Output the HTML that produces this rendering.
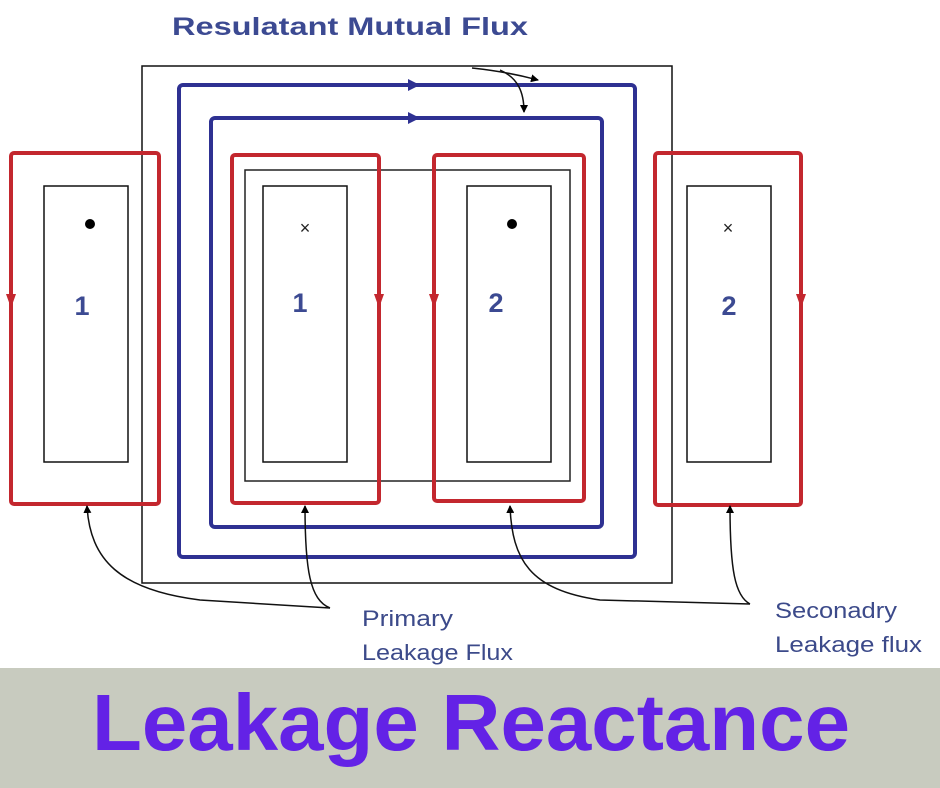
<!DOCTYPE html>
<html><head><meta charset="utf-8"><style>
html,body{margin:0;padding:0;background:#fff;}
svg{display:block;}
</style></head><body>
<svg width="940" height="788" viewBox="0 0 940 788" xmlns="http://www.w3.org/2000/svg">
<defs>
<marker id="ab" markerWidth="8" markerHeight="8" refX="7" refY="4" orient="auto" markerUnits="userSpaceOnUse"><path d="M0,0 L8,4 L0,8 z" fill="#000"/></marker>
</defs>
<rect width="940" height="668" fill="#fff"/>
<text x="172" y="35" font-family="Liberation Sans, sans-serif" font-size="25" font-weight="bold" fill="#3c4a92" textLength="356" lengthAdjust="spacingAndGlyphs">Resulatant Mutual Flux</text>
<!-- core -->
<rect x="142" y="66" width="530" height="517" fill="none" stroke="#111" stroke-width="1.5"/>
<rect x="245" y="170" width="325" height="311" fill="none" stroke="#222" stroke-width="1.5"/>
<!-- blue loops -->
<rect x="179" y="85" width="456" height="472" rx="4" fill="none" stroke="#2e3192" stroke-width="4"/>
<rect x="211" y="118" width="391" height="409" rx="4" fill="none" stroke="#2e3192" stroke-width="4"/>
<path d="M408,79 L420,85 L408,91 z M408,112 L420,118 L408,124 z" fill="#2e3192"/>
<!-- coils -->
<g fill="none" stroke="#111" stroke-width="1.5">
<rect x="44" y="186" width="84" height="276"/>
<rect x="263" y="186" width="84" height="276"/>
<rect x="467" y="186" width="84" height="276"/>
<rect x="687" y="186" width="84" height="276"/>
</g>
<!-- red loops -->
<g fill="none" stroke="#c3272e" stroke-width="4">
<rect x="11" y="153" width="148" height="351" rx="3"/>
<rect x="232" y="155" width="147" height="348" rx="3"/>
<rect x="434" y="155" width="150" height="346" rx="3"/>
<rect x="655" y="153" width="146" height="352" rx="3"/>
</g>
<g fill="#c3272e">
<path d="M6,294 L16,294 L11,308 z"/>
<path d="M374,294 L384,294 L379,308 z"/>
<path d="M429,294 L439,294 L434,308 z"/>
<path d="M796,294 L806,294 L801,308 z"/>
</g>
<!-- dots/crosses -->
<circle cx="90" cy="224" r="5" fill="#000"/>
<circle cx="512" cy="224" r="5" fill="#000"/>
<text x="305" y="234" font-family="Liberation Sans, sans-serif" font-size="18" text-anchor="middle" fill="#222">×</text>
<text x="728" y="234" font-family="Liberation Sans, sans-serif" font-size="18" text-anchor="middle" fill="#222">×</text>
<g font-family="Liberation Sans, sans-serif" font-size="27" font-weight="bold" fill="#3c4a92" text-anchor="middle">
<text x="82" y="315">1</text>
<text x="300" y="312">1</text>
<text x="496" y="312">2</text>
<text x="729" y="315">2</text>
</g>
<!-- leaders -->
<g fill="none" stroke="#111" stroke-width="1.5">
<path d="M472,68 C510,72 530,78 538,80" marker-end="url(#ab)"/>
<path d="M500,70 C518,78 524,92 524,112" marker-end="url(#ab)"/>
<path d="M330,608 L200,600 C120,590 90,560 87,506" marker-end="url(#ab)"/>
<path d="M330,608 C310,600 305,570 305,506" marker-end="url(#ab)"/>
<path d="M750,604 L600,600 C530,590 512,560 510,506" marker-end="url(#ab)"/>
<path d="M750,604 C735,596 730,570 730,506" marker-end="url(#ab)"/>
</g>
<g font-family="Liberation Sans, sans-serif" font-size="22" fill="#3c4a8a" lengthAdjust="spacingAndGlyphs">
<text x="362" y="626" textLength="91" lengthAdjust="spacingAndGlyphs">Primary</text>
<text x="362" y="660" textLength="151" lengthAdjust="spacingAndGlyphs">Leakage Flux</text>
<text x="775" y="618" textLength="122" lengthAdjust="spacingAndGlyphs">Seconadry</text>
<text x="775" y="652" textLength="147" lengthAdjust="spacingAndGlyphs">Leakage flux</text>
</g>
<!-- band -->
<rect x="0" y="668" width="940" height="120" fill="#c8cbbf"/>
<text x="92" y="750" font-family="Liberation Sans, sans-serif" font-size="80" font-weight="bold" fill="#6322e6" textLength="758" lengthAdjust="spacingAndGlyphs">Leakage Reactance</text>
</svg>
</body></html>
